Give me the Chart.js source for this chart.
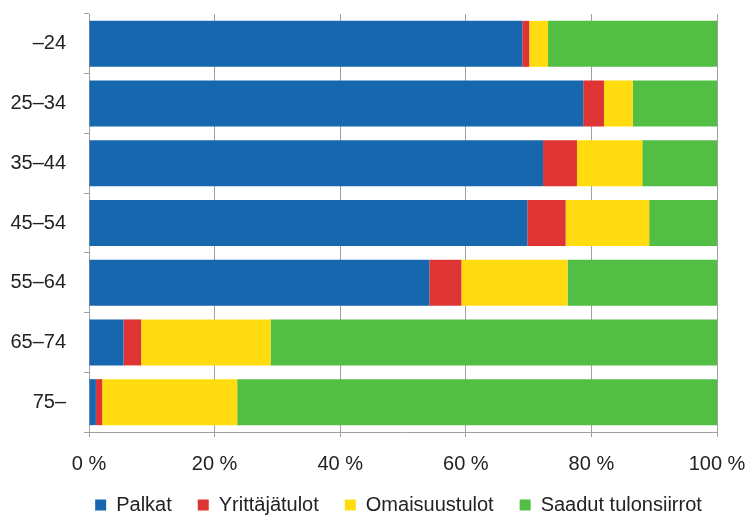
<!DOCTYPE html>
<html><head><meta charset="utf-8">
<script src="https://cdn.jsdelivr.net/npm/chart.js@4/dist/chart.umd.min.js"></script>
<style>html,body{margin:0;padding:0;background:#fff}#wrap{width:745px;height:515px}</style>
</head><body><div id="wrap"><canvas id="c" width="745" height="515"></canvas></div>
<script>
const categories = ['–24','25–34','35–44','45–54','55–64','65–74','75–'];
const palkat = [69.0, 78.7, 72.3, 69.8, 54.2, 5.5, 1.1];
const yrittajatulot = [1.1, 3.3, 5.4, 6.1, 5.1, 2.8, 1.0];
const omaisuustulot = [3.0, 4.6, 10.4, 13.3, 16.9, 20.6, 21.5];
const tulonsiirrot = [26.9, 13.4, 11.9, 10.8, 23.8, 71.1, 76.4];
const seriesNames = ['Palkat','Yrittäjätulot','Omaisuustulot','Saadut tulonsiirrot'];
const xTicks = [0,20,40,60,80,100];

const colors = ['#1767AF','#DE3433','#FFDB0F','#52BE43'];
const font = {family:'"Liberation Sans", Arial, sans-serif', size:20};
const grid = '#a0a0a0';
const series = [palkat, yrittajatulot, omaisuustulot, tulonsiirrot];
const LEGEND_PAD = 26;

const legendShift = {
  id:'legendShift',
  beforeDraw(chart){
    const lg = chart.legend;
    if (lg) {
      const h = lg.bottom - lg.top;
      const dx = 40;
      lg.left += dx; lg.right += dx;
      lg.top = 505 - LEGEND_PAD - 10; lg.bottom = lg.top + h;
    }
  }
};

new Chart(document.getElementById('c'), {
  type:'bar',
  data:{
    labels:categories,
    datasets: series.map((d,i)=>({label:seriesNames[i], data:d, backgroundColor:colors[i], borderWidth:0,
      barPercentage:0.77, categoryPercentage:1}))
  },
  plugins:[legendShift],
  options:{
    indexAxis:'y', responsive:false, animation:false,
    layout:{padding:{top:14, right:28, left:0, bottom:-19}},
    plugins:{
      legend:{position:'bottom', labels:{font:font, color:'#222', boxWidth:11, boxHeight:11, padding:LEGEND_PAD}},
      tooltip:{enabled:false}
    },
    scales:{
      x:{stacked:true, min:0, max:100,
        afterBuildTicks:(s)=>{s.ticks = xTicks.map(v=>({value:v}));},
        ticks:{font:font, color:'#222', padding:15, callback:(v)=>v+' %', maxRotation:0},
        grid:{color:grid, tickColor:grid, tickLength:5, lineWidth:1},
        border:{color:grid},
        afterFit:(s)=>{s.height = 46; s.paddingLeft = 0; s.paddingRight = 0;}
      },
      y:{stacked:true,
        ticks:{font:font, color:'#222', padding:18},
        grid:{drawOnChartArea:false, color:grid, tickColor:grid, tickLength:5, offset:true},
        border:{color:grid},
        afterFit:(s)=>{s.width = 89; s.paddingTop = 0; s.paddingBottom = 0;}
      }
    }
  }
});
</script></body></html>
